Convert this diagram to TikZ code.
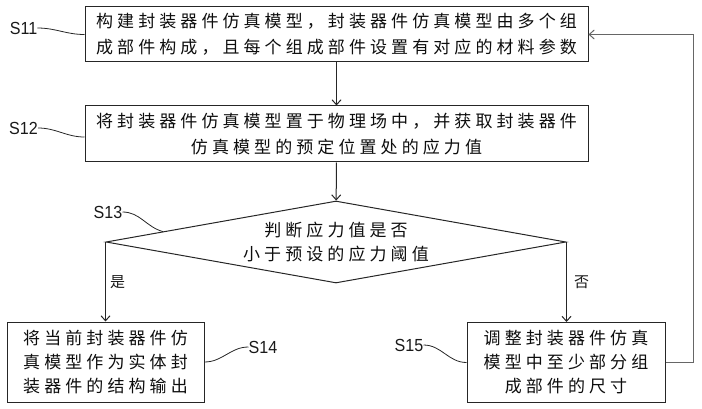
\documentclass[tikz,border=0pt]{standalone}
\usepackage{fontspec}
\setmainfont{Liberation Sans}
\newfontfamily\cjk[LetterSpace=24]{Noto Sans CJK SC}
\newfontfamily\cjkplain{Noto Sans CJK SC}
\usetikzlibrary{arrows.meta,shapes.geometric,calc}
\begin{document}
\begin{tikzpicture}[x=1pt,y=-1pt,
  box/.style={draw=black!85,line width=1pt,inner sep=0pt,align=center,text=black!95},
  topbox/.style={box,minimum width=503pt,minimum height=55pt,font=\cjk\fontsize{17}{26}\selectfont},
  lowbox/.style={box,minimum width=198pt,minimum height=80pt,font=\cjk\fontsize{17}{24}\selectfont},
  decision/.style={diamond,draw=black!85,line width=1pt,shape aspect=5.6,minimum width=460pt,minimum height=82pt,inner sep=0pt,align=center,text=black!95,font=\cjk\fontsize{17}{24}\selectfont},
  lbl/.style={font=\fontsize{17.5}{17.5}\selectfont,inner sep=0pt,text=black!90,xscale=0.92},
  yn/.style={font=\cjkplain\fontsize{15}{15}\selectfont,text=black!90,inner sep=0pt},
  link/.style={draw=black!85,line width=1pt},
  arr/.style={link,-{Straight Barb[length=5pt,width=9pt]}},
  looparr/.style={draw=black!60,line width=1pt,-{Straight Barb[length=5pt,width=9pt]}},
  sq/.style={draw=black!85,line width=0.8pt}
]
\useasboundingbox (0,0) rectangle (702,409);
\node[topbox] (s11) at (336.5,34.5) {构建封装器件仿真模型，封装器件仿真模型由多个组\\成部件构成，且每个组成部件设置有对应的材料参数};
\node[topbox,minimum height=56pt] (s12) at (336.5,134) {将封装器件仿真模型置于物理场中，并获取封装器件\\仿真模型的预定位置处的应力值};
\node[decision] (d) at (336,242) {判断应力值是否\\小于预设的应力阈值};
\node[lowbox,minimum width=197pt] (s14) at (105.5,362) {将当前封装器件仿\\真模型作为实体封\\装器件的结构输出};
\node[lowbox] (s15) at (566,362.5) {调整封装器件仿真\\模型中至少部分组\\成部件的尺寸};

\node[lbl] (l11) at (23.5,28) {S11};
\node[lbl] (l12) at (23.5,128) {S12};
\node[lbl] (l13) at (108,212) {S13};
\node[lbl] (l14) at (263,347) {S14};
\node[lbl] (l15) at (409,345) {S15};

\coordinate (d13) at ($(d.west)!0.25!(d.north)$);
\draw[sq] (l11.east) to[out=0,in=180] (s11.west);
\draw[sq] (l12.east) to[out=0,in=180] ($(s12.west)+(0,3)$);
\draw[sq] (l13.east) to[out=0,in=165] (d13);
\draw[sq] (s14.east) to[out=0,in=180] (l14.west);
\draw[sq] (l15.east) to[out=0,in=180] (s15.west);

\draw[arr] (s11) -- (s12);
\draw[arr] (s12) -- (d);
\draw[arr] (d.west) -- (d.west |- s14.north) node[yn,midway,right=4pt] (yes) {是};
\draw[arr] (d.east) -- (d.east |- s15.north) node[yn,midway,right=7pt] (no) {否};
\draw[looparr] (s15.east) -- ++(28,0) |- (s11.east);
\end{tikzpicture}
\end{document}
